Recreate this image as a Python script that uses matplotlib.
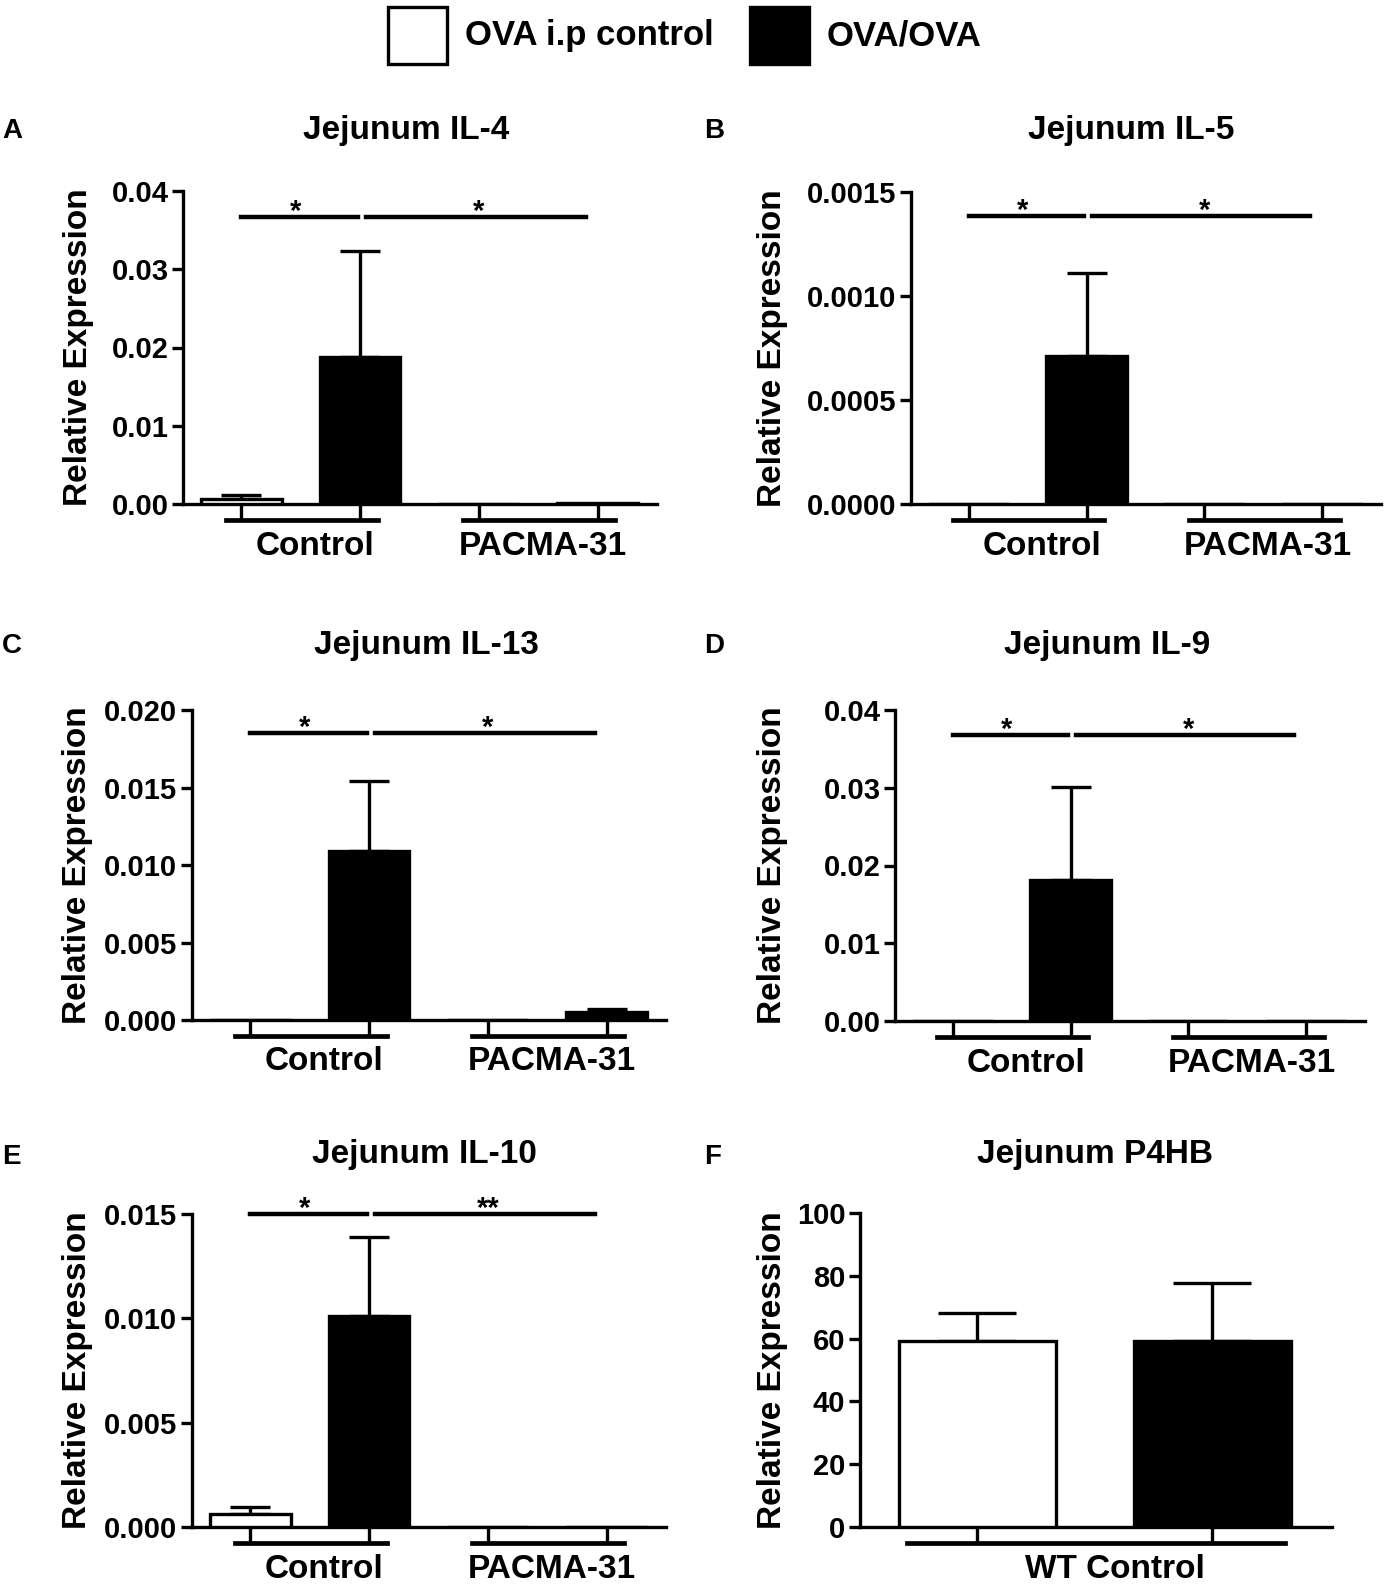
import matplotlib.pyplot as plt
import matplotlib.transforms as mtransforms
from matplotlib.patches import Rectangle

plt.rcParams['font.family'] = ['Liberation Sans', 'DejaVu Sans']
plt.rcParams['font.weight'] = 'bold'

W, H = 1390, 1586

legend_labels = ['OVA i.p control', 'OVA/OVA']
group_labels = ['Control', 'PACMA-31']
wt_label = ['WT Control']

# bar order: Control/OVA i.p, Control/OVA-OVA, PACMA/OVA i.p, PACMA/OVA-OVA
il4_mean = [0.0006, 0.0188, 0.0, 0.0001]
il4_err = [0.0005, 0.0135, 0.0, 0.0]
il4_ticks = [0.0, 0.01, 0.02, 0.03, 0.04]
il4_ticklabels = ['0.00', '0.01', '0.02', '0.03', '0.04']
il4_sig_y = 0.0367
il4_sig = ['*', '*']

il5_mean = [0.0, 0.000712, 0.0, 0.0]
il5_err = [0.0, 0.0004, 0.0, 0.0]
il5_ticks = [0.0, 0.0005, 0.0010, 0.0015]
il5_ticklabels = ['0.0000', '0.0005', '0.0010', '0.0015']
il5_sig_y = 0.001385
il5_sig = ['*', '*']

il13_mean = [0.0, 0.0109, 0.0, 0.0005]
il13_err = [0.0, 0.0045, 0.0, 0.0002]
il13_ticks = [0.0, 0.005, 0.010, 0.015, 0.020]
il13_ticklabels = ['0.000', '0.005', '0.010', '0.015', '0.020']
il13_sig_y = 0.0185
il13_sig = ['*', '*']

il9_mean = [0.0, 0.0181, 0.0, 0.0]
il9_err = [0.0, 0.012, 0.0, 0.0]
il9_ticks = [0.0, 0.01, 0.02, 0.03, 0.04]
il9_ticklabels = ['0.00', '0.01', '0.02', '0.03', '0.04']
il9_sig_y = 0.0368
il9_sig = ['*', '*']

il10_mean = [0.00061, 0.0101, 0.0, 0.0]
il10_err = [0.00035, 0.0038, 0.0, 0.0]
il10_ticks = [0.0, 0.005, 0.010, 0.015]
il10_ticklabels = ['0.000', '0.005', '0.010', '0.015']
il10_sig_y = 0.0150
il10_sig = ['*', '**']

p4hb_mean = [59.3, 59.1]
p4hb_err = [8.9, 18.6]
p4hb_ticks = [0, 20, 40, 60, 80, 100]
p4hb_ticklabels = ['0', '20', '40', '60', '80', '100']

LW = 2.4

fig = plt.figure(figsize=(W / 100, H / 100), dpi=100)


def px_axes(l, t, r, b):
    return fig.add_axes([l / W, 1 - b / H, (r - l) / W, (b - t) / H])


def fig_text(x, y, s, **kw):
    fig.text(x / W, 1 - y / H, s, **kw)


def panel(box, xlim, means, errs, ticks, ticklabels, title, title_xy,
          letter, letter_xy, ylabel_x, groups, group_label_x,
          sig_y=None, sig=None, bw=0.68):
    l, t, r, b = box
    ax = px_axes(l, t, r, b)
    hp = b - t
    unit_px = (r - l) / (xlim[1] - xlim[0])
    n = len(means)
    x = list(range(n))
    colors = ['white', 'black'] * (n // 2)
    ax.bar(x, means, width=bw, color=colors, edgecolor='black',
           linewidth=LW, zorder=3)
    keep = [i for i in x if errs[i] > 0]
    cap = 0.25 * bw * unit_px * 0.72
    ax.errorbar([x[i] for i in keep], [means[i] for i in keep],
                yerr=[[0] * len(keep), [errs[i] for i in keep]],
                fmt='none', ecolor='black', elinewidth=LW, capsize=cap,
                capthick=LW, zorder=2)
    ax.set_xlim(xlim)
    ax.set_ylim(ticks[0], ticks[-1])
    ax.set_yticks(ticks)
    ax.set_yticklabels(ticklabels)
    ax.set_xticks([])
    for s in ['top', 'right']:
        ax.spines[s].set_visible(False)
    for s in ['left', 'bottom']:
        ax.spines[s].set_linewidth(LW)
    ax.tick_params(axis='y', length=8, width=LW, pad=2.5, labelsize=21)
    for lab in ax.get_yticklabels():
        lab.set_fontweight('bold')

    # grouping brackets below the axis
    trans = mtransforms.blended_transform_factory(ax.transData, ax.transAxes)
    off = 16 / hp
    for g in range(n // 2):
        g0, g1 = 2 * g, 2 * g + 1
        for xx in (g0, g1):
            ax.plot([xx, xx], [0, -off], color='black', lw=LW,
                    transform=trans, clip_on=False, solid_capstyle='butt')
        ext_l = 70 / unit_px if n == 2 else 0.13
        ext_r = 73 / unit_px if n == 2 else 0.15
        ax.plot([g0 - ext_l, g1 + ext_r], [-off, -off], color='black',
                lw=3.4, transform=trans, clip_on=False)
        ax.text(group_label_x[g], -42 / hp, groups[g], transform=trans,
                ha='center', va='center', fontsize=24, fontweight='bold')

    # significance bars
    if sig is not None:
        spans = [(0.0, 0.98), (1.05, 2.9)]
        star_x = [0.46, 2.0]
        for (x0, x1), sx, mk in zip(spans, star_x, sig):
            ax.plot([x0, x1], [sig_y, sig_y], color='black', lw=3.2,
                    clip_on=False)
            ax.annotate(mk, xy=(sx, sig_y), xytext=(0, -2),
                        textcoords='offset points', ha='center',
                        va='baseline', fontsize=21, fontweight='bold',
                        annotation_clip=False)

    fig_text(title_xy[0], title_xy[1], title, ha='center', va='center',
             fontsize=24, fontweight='bold')
    fig_text(letter_xy[0], letter_xy[1], letter, ha='left', va='center',
             fontsize=20, fontweight='bold')
    fig_text(ylabel_x, (t + b) / 2, 'Relative Expression', rotation=90,
             ha='center', va='center', fontsize=24, fontweight='bold')
    return ax


XL = (-0.49, 3.5)
GX = [0.62, 2.54]

panel((183, 191, 657, 504), XL, il4_mean, il4_err, il4_ticks, il4_ticklabels,
      'Jejunum IL-4', (406, 130), 'A', (2, 131), 79, group_labels, GX,
      il4_sig_y, il4_sig)
panel((911, 192, 1381, 504), XL, il5_mean, il5_err, il5_ticks, il5_ticklabels,
      'Jejunum IL-5', (1131, 130), 'B', (704, 131), 772, group_labels, GX,
      il5_sig_y, il5_sig)
panel((192, 710, 666, 1020), XL, il13_mean, il13_err, il13_ticks,
      il13_ticklabels, 'Jejunum IL-13', (426, 646), 'C', (2, 646), 78,
      group_labels, GX, il13_sig_y, il13_sig)
panel((895, 710, 1365, 1021), XL, il9_mean, il9_err, il9_ticks,
      il9_ticklabels, 'Jejunum IL-9', (1107, 646), 'D', (704, 646), 772,
      group_labels, GX, il9_sig_y, il9_sig)
panel((192, 1214, 666, 1527), XL, il10_mean, il10_err, il10_ticks,
      il10_ticklabels, 'Jejunum IL-10', (424, 1154), 'E', (2, 1157), 78,
      group_labels, GX, il10_sig_y, il10_sig)
panel((860, 1213, 1332, 1527), (-0.5, 1.51), p4hb_mean, p4hb_err,
      p4hb_ticks, p4hb_ticklabels, 'Jejunum P4HB', (1095, 1154), 'F',
      (704, 1157), 772, wt_label, [0.585], bw=0.67)

# legend at the top
for (x0, face), lab in zip([(388, 'white'), (750, 'black')], legend_labels):
    fig.add_artist(Rectangle((x0 / W, 1 - 64 / H), 59 / W, 57 / H,
                             transform=fig.transFigure, facecolor=face,
                             edgecolor='black', linewidth=LW))
    fig_text(x0 + 77, 36, lab, ha='left', va='center', fontsize=25,
             fontweight='bold')

fig.savefig('out.png', dpi=100)
